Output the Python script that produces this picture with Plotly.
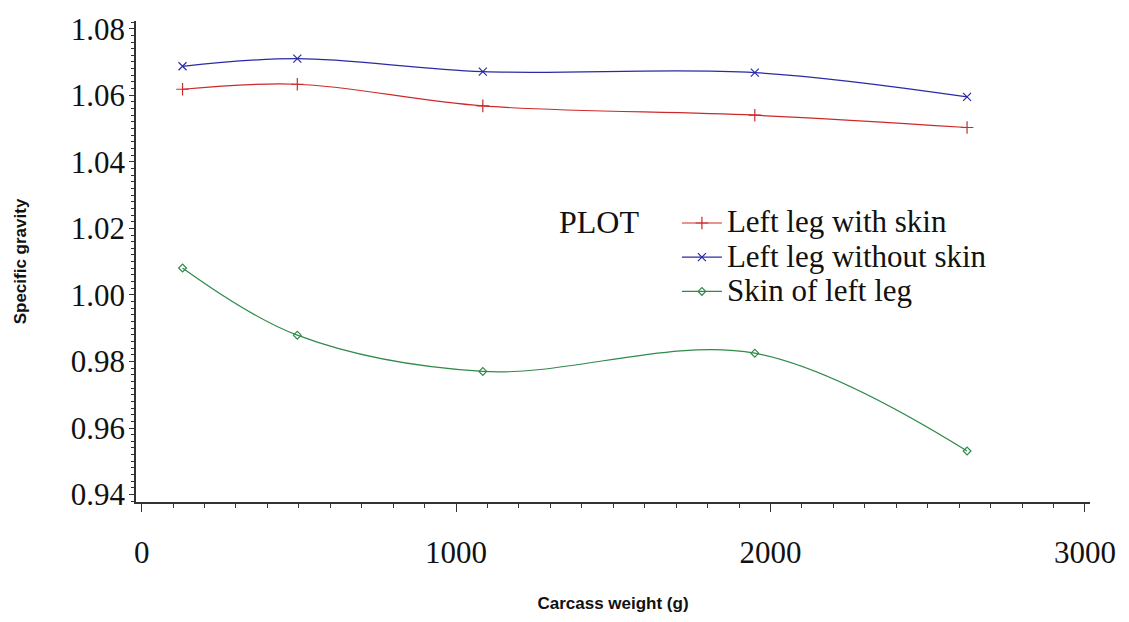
import plotly.graph_objects as go

# Carcass weight (g) at each sampling point
carcass_weight = [130, 495, 1085, 1950, 2625]

# Specific gravity per tissue
left_leg_with_skin = [1.0618, 1.0633, 1.0568, 1.0540, 1.0503]
left_leg_without_skin = [1.0687, 1.0710, 1.0671, 1.0668, 1.0595]
skin_of_left_leg = [1.0081, 0.9879, 0.9770, 0.9825, 0.9531]

series_names = ["Left leg with skin", "Left leg without skin", "Skin of left leg"]

x_ticks = [0, 1000, 2000, 3000]
y_ticks = [0.94, 0.96, 0.98, 1.00, 1.02, 1.04, 1.06, 1.08]
y_tick_text = ["0.94", "0.96", "0.98", "1.00", "1.02", "1.04", "1.06", "1.08"]

SERIF = "Liberation Serif, Times New Roman, serif"
SANS = "Liberation Sans, Arial, sans-serif"

styles = [
    dict(color="#cc2a2a", symbol="cross-thin-open", size=9),
    dict(color="#2a2aa6", symbol="x-thin-open", size=8),
    dict(color="#2f8a4a", symbol="diamond-open", size=6),
]

fig = go.Figure()
for name, ys, st in zip(series_names,
                        [left_leg_with_skin, left_leg_without_skin, skin_of_left_leg],
                        styles):
    fig.add_trace(go.Scatter(
        x=carcass_weight, y=ys, mode="lines+markers",
        name=f'<span style="font-size:31px;font-family:Liberation Serif">{name}</span>',
        line=dict(color=st["color"], width=1.2, shape="spline", smoothing=1.0),
        marker=dict(symbol=st["symbol"], size=st["size"], color=st["color"],
                    line=dict(color=st["color"], width=1.2)),
    ))

axis_common = dict(
    showline=True, linecolor="#333333", linewidth=1.5,
    ticks="outside", tickcolor="#333333", tickwidth=1,
    showgrid=False, zeroline=False, mirror=False,
    tickfont=dict(family=SERIF, size=31, color="#111111"),
)

fig.update_xaxes(
    **axis_common,
    range=[-18, 3016], tickvals=x_ticks, ticktext=[str(v) for v in x_ticks],
    ticklen=8, ticklabelstandoff=14,
    minor=dict(dtick=100, ticklen=4, tickcolor="#333333", tickwidth=1, ticks="outside", showgrid=False),
    title=dict(text="<b>Carcass weight (g)</b>", font=dict(family=SANS, size=17, color="#111111"),
               standoff=28),
)
fig.update_yaxes(
    **axis_common,
    range=[0.93777, 1.08231], tickvals=y_ticks, ticktext=y_tick_text,
    ticklen=5, ticklabelstandoff=-2,
    minor=dict(dtick=0.002, ticklen=3, tickcolor="#333333", tickwidth=1, ticks="outside", showgrid=False),
    title=dict(text="<b>Specific gravity</b>", font=dict(family=SANS, size=17, color="#111111"),
               standoff=40),
)

fig.add_annotation(
    text="PLOT", xref="paper", yref="paper", x=0.4853, y=0.582,
    xanchor="center", yanchor="middle", showarrow=False,
    font=dict(family=SERIF, size=32, color="#111111"),
)

fig.update_layout(
    width=1129, height=622,
    margin=dict(l=136, r=39, t=12, b=110),
    paper_bgcolor="white", plot_bgcolor="white",
    showlegend=True,
    legend=dict(
        x=0.567, y=0.626, xanchor="left", yanchor="top",
        font=dict(family=SERIF, size=24, color="#111111"),
        itemwidth=40, bgcolor="rgba(0,0,0,0)", borderwidth=0,
        tracegroupgap=0,
    ),
)

fig.write_html("out.html")
